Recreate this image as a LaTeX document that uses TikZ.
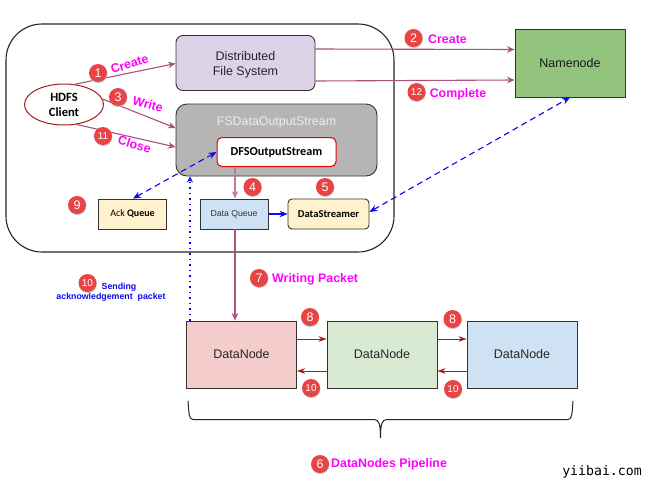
\documentclass[tikz,border=0pt]{standalone}
\usepackage{fontspec}
\setmainfont{Liberation Sans}
\newfontfamily\labelfont{Carlito}
\newfontfamily\wmfont{DejaVu Sans Mono}
\usetikzlibrary{arrows.meta,shapes.geometric}
\definecolor{flowc}{HTML}{A9527F}
\definecolor{flowl}{HTML}{C27BA0}
\definecolor{edgec}{HTML}{333333}
\definecolor{badgec}{HTML}{E84445}
\definecolor{darkred}{HTML}{A61C1C}
\definecolor{mag}{HTML}{FF00FF}
\definecolor{bluec}{HTML}{0A0AF0}
\tikzset{
 x=1pt,y=-1pt,
 box/.style={draw=edgec,line width=0.9pt,inner sep=0pt,align=center,minimum width=#1},
 roundbox/.style={box=#1,rounded corners=7pt},
 flow/.style={draw=flowc,line width=1.1pt,-{Stealth[length=7.5pt,width=6.5pt]}},
 lightflow/.style={draw=flowl,line width=1.1pt,-{Stealth[length=7.5pt,width=6.5pt]}},
 relay/.style={draw=darkred,line width=1pt,-{Stealth[length=8pt,width=5.5pt]}},
 ack/.style={draw=bluec,line width=1.1pt,dash pattern=on 6pt off 4pt,{Stealth[length=8pt,width=6.5pt]}-{Stealth[length=8pt,width=6.5pt]}},
 maglabel/.style={text=mag,font=\fontsize{12.4}{14}\selectfont\bfseries,inner sep=0pt},
 badge/.style={circle,fill=badgec,text=white,minimum size=18pt,inner sep=0pt,font=\fontsize{#1}{#1}\selectfont,
   preaction={fill=black!22,transform canvas={xshift=0.4pt,yshift=-1pt}}},
 badge/.default=12.5,
 boxtext/.style={font=\fontsize{12.5}{15}\selectfont},
}
\begin{document}
\begin{tikzpicture}
\useasboundingbox (0,0) rectangle (654,480);
\fill[white] (0,0) rectangle (654,480);
\node[draw=black!85,line width=1.1pt,rounded corners=36pt,minimum width=388pt,minimum height=228pt,inner sep=0pt] (outer) at (200,138) {};
\node[roundbox=139pt,minimum height=55pt,fill={rgb,255:red,220;green,211;blue,232},boxtext,text=black!85] (dfs) at (245.5,63) {\rule{0pt}{13pt}Distributed\\File System};
\node[box=110pt,minimum height=68pt,fill={rgb,255:red,147;green,196;blue,125},boxtext,text=black!90] (nn) at (570,63) {Namenode};
\node[draw=darkred,line width=1pt,ellipse,fill=white,minimum width=79pt,minimum height=41pt,inner sep=0pt,align=center,font=\labelfont\fontsize{12.6}{15}\selectfont\bfseries] (client) at (64,104.5) {HDFS\\Client};
\node[box=201pt,rounded corners=11pt,minimum height=72pt,fill=black!29] (fsd) at (276.5,140) {};
\node[text=black!7,font=\fontsize{12.4}{14}\selectfont,inner sep=0pt] (fsdlabel) at (276.5,122) {FSDataOutputStream};
\node[draw=red!90!black,line width=1pt,rounded corners=5pt,fill=white,minimum width=119pt,minimum height=29pt,inner sep=0pt,font=\labelfont\fontsize{12.2}{14}\selectfont\bfseries] (dfo) at (276.5,152) {DFSOutputStream};
\node[box=68pt,minimum height=30pt,fill={rgb,255:red,255;green,242;blue,204},font=\labelfont\fontsize{10}{11}\selectfont] (ackq) at (132.5,214) {Ack \textbf{Queue}};
\node[box=68pt,minimum height=30pt,fill={rgb,255:red,207;green,226;blue,243},font=\fontsize{8.7}{10}\selectfont,text=black!80] (dq) at (234,214) {Data Queue};
\node[roundbox=81pt,rounded corners=4pt,minimum height=30pt,fill={rgb,255:red,255;green,242;blue,204},font=\labelfont\fontsize{10.6}{11}\selectfont\bfseries] (ds) at (328.5,214) {DataStreamer};
\node[box=110pt,minimum height=67pt,fill={rgb,255:red,244;green,204;blue,204},boxtext,text=black!85] (dn1) at (241.5,354.5) {DataNode};
\node[box=110pt,minimum height=67pt,fill={rgb,255:red,217;green,234;blue,211},boxtext,text=black!85] (dn2) at (382,354.5) {DataNode};
\node[box=110pt,minimum height=67pt,fill={rgb,255:red,207;green,226;blue,243},boxtext,text=black!85] (dn3) at (522,354.5) {DataNode};
% connectors
\draw[flow] (client.62) -- ([yshift=-0.5pt]dfs.west);
\draw[flow] (client.8) -- ([yshift=12pt]fsd.west);
\draw[flow] (client.-58) -- ([yshift=-7pt]fsd.west);
\draw[flow] ([yshift=14pt]dfs.east) -- ([yshift=13.5pt]nn.west);
\draw[flow] ([yshift=-18pt]dfs.east) -- ([yshift=-17pt]nn.west);
\draw[lightflow] ([xshift=-41.5pt]dfo.south) -- ([xshift=1pt]dq.north);
\draw[draw=bluec,line width=1.2pt,-{Stealth[length=8pt,width=6.5pt]}] (dq.east) -- (ds.west);
\draw[flow] ([xshift=1pt]dq.south) -- ([xshift=-6.5pt]dn1.north);
\draw[ack] ([xshift=0.5pt]ackq.north) -- (dfo.west);
\draw[ack] ([yshift=2pt]ds.east) -- (nn.south);
\draw[draw=bluec,line width=1.3pt,dash pattern=on 1.5pt off 4pt,-{Stealth[length=6pt,width=6pt]}] ([xshift=-51.5pt]dn1.north) -- ([xshift=-86.5pt]fsd.south);
\draw[relay] ([yshift=15.5pt]dn1.east) -- ([yshift=15.5pt]dn2.west);
\draw[relay] ([yshift=-16.5pt]dn2.west) -- ([yshift=-16.5pt]dn1.east);
\draw[relay] ([yshift=15.5pt]dn2.east) -- ([yshift=15.5pt]dn3.west);
\draw[relay] ([yshift=-16.5pt]dn3.west) -- ([yshift=-16.5pt]dn2.east);
% brace
\coordinate (bl) at (188,401);
\coordinate (bm) at (380.5,438);
\coordinate (br) at (573,401);
\draw[draw=black!85,line width=1pt] (bl) .. controls (189,414) and (189,419.5) .. (193,419.5) -- (374,419.5) .. controls (379,419.5) and (380.5,424) .. (bm) .. controls (380.5,424) and (382,419.5) .. (387,419.5) -- (568,419.5) .. controls (572,419.5) and (572,414) .. (br);
% labels
\node[maglabel,rotate=17] (lcreate) at (129.5,64) {Create};
\node[maglabel,rotate=-16] (lwrite) at (148,104) {Write};
\node[maglabel,rotate=-17] (lclose) at (134.5,144.5) {Close};
\node[maglabel] (lcreate2) at (447.5,39) {Create};
\node[maglabel] (lcomplete) at (458,94) {Complete};
\node[maglabel,anchor=west] (lwp) at (272,279) {Writing Packet};
\node[maglabel,anchor=west] (lpipe) at (331,464) {DataNodes Pipeline};
\node[text=bluec,font=\fontsize{8.8}{10.5}\selectfont\bfseries,align=center,inner sep=0pt] (lsend) at (111,292) {\hspace*{16pt}Sending\\acknowledgement\ \ packet};
% badges
\node[badge] (b1) at (98,73) {1};
\node[badge] (b3) at (118,97) {3};
\node[badge=10] (b11) at (103,136) {11};
\node[badge] (b2) at (413.5,38) {2};
\node[badge=10] (b12) at (416.5,92) {12};
\node[badge] (b4) at (252.5,187) {4};
\node[badge] (b5) at (325,187) {5};
\node[badge] (b9) at (77,205) {9};
\node[badge=10] (b10a) at (87.5,283) {10};
\node[badge] (b7) at (259,278) {7};
\node[badge] (b8a) at (310,317) {8};
\node[badge=10] (b10b) at (311,388) {10};
\node[badge] (b8b) at (452.5,319) {8};
\node[badge=10] (b10c) at (453,389) {10};
\node[badge] (b6) at (320,464) {6};
\node[text=black,font=\wmfont\fontsize{13.2}{14}\selectfont,inner sep=0pt] (wm) at (602,472) {yiibai.com};
\end{tikzpicture}
\end{document}
